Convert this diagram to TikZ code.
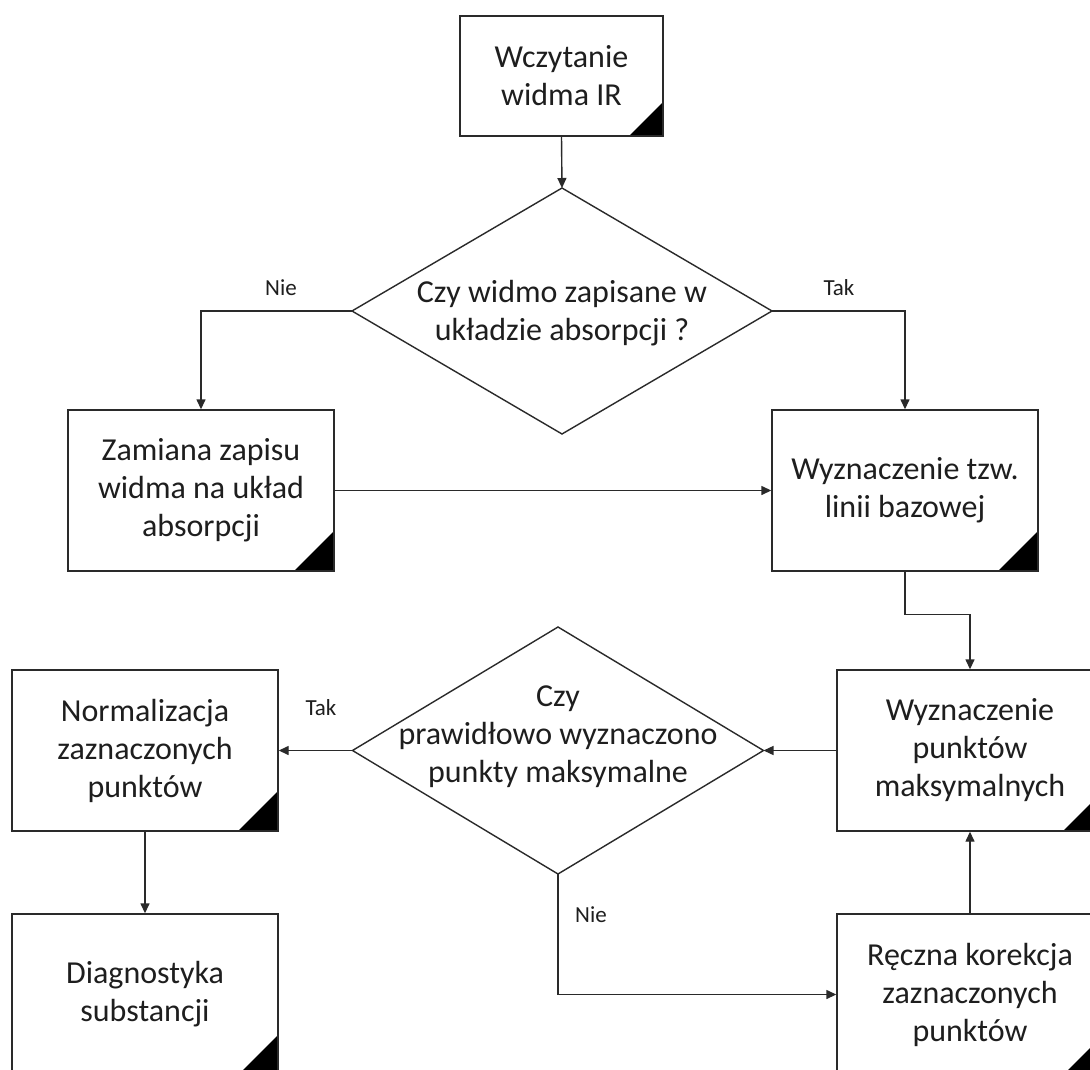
\documentclass[tikz,border=0pt]{standalone}
\usepackage{fontspec}
\setmainfont{Carlito}
\usetikzlibrary{shapes.geometric,arrows.meta}
\definecolor{ink}{HTML}{1E1E1E}
\definecolor{edge}{HTML}{2A2A2A}
\tikzset{
  corner/.style={path picture={\fill[black] ([xshift=-#1]path picture bounding box.south east) -- (path picture bounding box.south east) -- ([yshift=#1]path picture bounding box.south east) -- cycle;}},
  procbox/.style={draw=edge, line width=1.4pt, minimum width=266pt, minimum height=161pt, inner sep=0pt, align=center, text=ink, font=\fontsize{32}{38}\selectfont, corner=40pt},
  decis/.style={diamond, draw=edge, line width=1.4pt, inner sep=0pt, outer sep=0pt},
  dtext/.style={align=center, text=ink, font=\fontsize{32}{38}\selectfont, inner sep=0pt},
  lbl/.style={text=ink, font=\fontsize{23}{27}\selectfont, inner sep=0pt},
  arr/.style={draw=edge, line width=1.4pt, -{Triangle[length=10pt,width=9pt]}},
}
\begin{document}
\begin{tikzpicture}[x=1pt,y=-1pt]
\useasboundingbox (0,0) rectangle (1090,1070);
\clip (0,0) rectangle (1090,1070);
\fill[white] (0,0) rectangle (1090,1070);

\node[procbox, minimum width=203pt, minimum height=120pt, corner=34pt] (b1) at (561.5,76) {Wczytanie\\widma IR};

\node[decis, minimum width=420pt, minimum height=246pt] (d1) at (562,311) {};
\node[dtext] (d1t) at (562,313) {Czy widmo zapisane w\\układzie absorpcji ?};

\node[procbox] (b2) at (201,490.5) {Zamiana zapisu\\widma na układ\\absorpcji};
\node[procbox] (b3) at (905,490.5) {Wyznaczenie tzw.\\linii bazowej};
\node[procbox] (b4) at (970,750.5) {Wyznaczenie\\punktów\\maksymalnych};

\node[decis, minimum width=411pt, minimum height=247pt] (d2) at (558,750.5) {};
\node[dtext] (d2t) at (558,737) {Czy\\prawidłowo wyznaczono\\punkty maksymalne};

\node[procbox] (b5) at (145,750.5) {Normalizacja\\zaznaczonych\\punktów};
\node[procbox] (b6) at (145,994.5) {Diagnostyka\\substancji};
\node[procbox] (b7) at (970,994.5) {Ręczna korekcja\\zaznaczonych\\punktów};

\node[lbl] (l1) at (281,288) {Nie};
\node[lbl] (l2) at (839,288) {Tak};
\node[lbl] (l3) at (321,708) {Tak};
\node[lbl] (l4) at (591,915) {Nie};

\draw[arr] (b1.south) -- (d1.north);
\draw[arr] (d1.west) -| (b2.north);
\draw[arr] (d1.east) -| (b3.north);
\draw[arr] (b2.east) -- (b3.west);
\draw[arr] (b3.south) -- ++(0,43) -| (b4.north);
\draw[arr] (b4.west) -- (d2.east);
\draw[arr] (d2.west) -- (b5.east);
\draw[arr] (b5.south) -- (b6.north);
\draw[arr] (d2.south) |- (b7.west);
\draw[arr] (b7.north) -- (b4.south);
\end{tikzpicture}
\end{document}
